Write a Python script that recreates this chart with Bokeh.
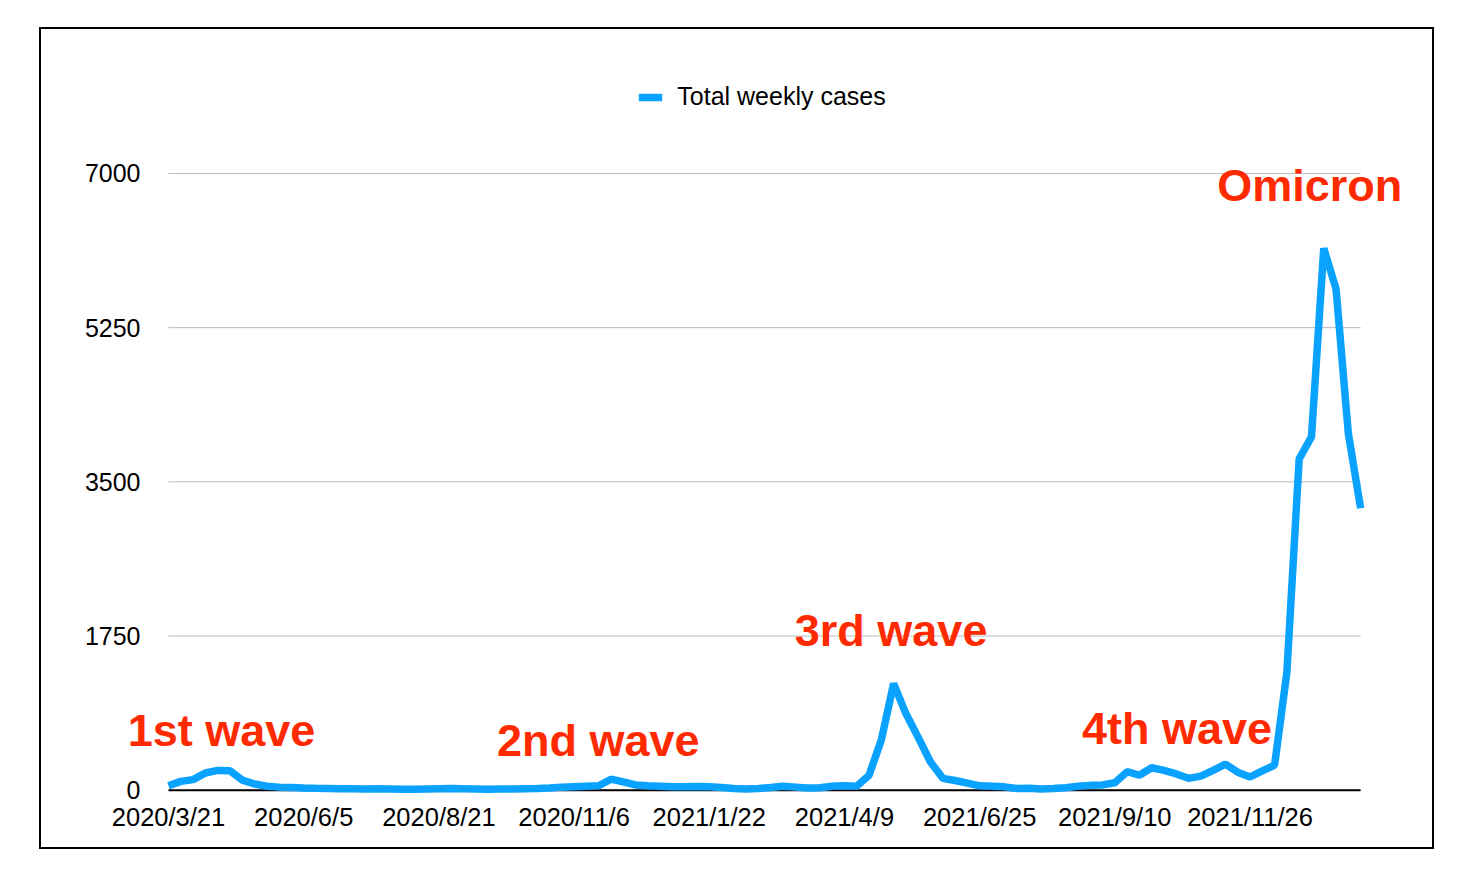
from bokeh.plotting import figure
from bokeh.models import (Range1d, FixedTicker, Label, Legend, LegendItem,
                          ColumnDataSource)
from bokeh.embed import file_html
from bokeh.resources import INLINE

# ---- data (weekly cases) ----
cases = [50, 100, 120, 195, 225, 220, 115, 70, 45, 35,
         30, 25, 22, 20, 18, 18, 15, 18, 15, 12,
         12, 15, 18, 20, 18, 15, 12, 15, 15, 18,
         20, 25, 35, 40, 45, 50, 125, 95, 60, 50,
         45, 40, 38, 42, 38, 30, 20, 15, 20, 30,
         45, 35, 25, 28, 45, 50, 45, 170, 570, 1210,
         870, 600, 320, 135, 110, 80, 50, 45, 38, 20,
         22, 15, 20, 28, 45, 55, 60, 85, 210, 170,
         255, 225, 185, 135, 160, 225, 295, 205, 150, 220,
         285, 1340, 3760, 4010, 6150, 5690, 4050, 3200]
tick_labels = ["2020/3/21", "2020/6/5", "2020/8/21", "2020/11/6", "2021/1/22",
               "2021/4/9", "2021/6/25", "2021/9/10", "2021/11/26"]
tick_step = 11
y_ticks = [0, 1750, 3500, 5250, 7000]
series_name = "Total weekly cases"
wave_texts = ["1st wave", "2nd wave", "3rd wave", "4th wave", "Omicron"]

weeks = list(range(len(cases)))
src = ColumnDataSource(dict(week=weeks, cases=cases))
last = len(cases) - 1

FONT = "Liberation Sans"

p = figure(width=1395, height=822, output_backend="svg", toolbar_location=None,
           x_range=Range1d(-3.906, 100.57),
           y_range=Range1d(-60, 8282),
           min_border_left=79, min_border_right=32,
           min_border_top=31, min_border_bottom=56)
p.margin = (27, 0, 0, 39)
p.styles = {"border": "2px solid black"}
p.outline_line_color = None
p.background_fill_color = "white"
p.border_fill_color = "white"
p.xgrid.visible = False
p.ygrid.visible = False

# horizontal gridlines spanning the data extent, then the black zero baseline
grid_src = ColumnDataSource(dict(x0=[0] * len(y_ticks), x1=[last] * len(y_ticks),
                                 y=y_ticks))
p.segment('x0', 'y', 'x1', 'y', source=grid_src, line_color="#BBBBBB", line_width=1)
p.segment(x0=[0], y0=[0], x1=[last], y1=[0], line_color="black", line_width=2)

r = p.line('week', 'cases', source=src, line_color="#0AA2FF", line_width=7.5,
           line_join="bevel")

# axes
p.yaxis.ticker = FixedTicker(ticks=y_ticks)
xt = [i * tick_step for i in range(len(tick_labels))]
p.xaxis.ticker = FixedTicker(ticks=xt)
p.xaxis.major_label_overrides = {t: l for t, l in zip(xt, tick_labels)}
for ax in (p.xaxis[0], p.yaxis[0]):
    ax.axis_line_color = None
    ax.major_tick_line_color = None
    ax.minor_tick_line_color = None
    ax.major_label_text_font = FONT
    ax.major_label_text_font_style = "normal"
    ax.major_label_text_color = "black"
p.xaxis.major_label_text_font_size = "25.5px"
p.yaxis.major_label_text_font_size = "25px"
p.yaxis.major_label_standoff = -26
p.xaxis.major_label_standoff = 1

legend = Legend(items=[LegendItem(label=series_name, renderers=[r])],
                location="top_center", orientation="horizontal",
                border_line_color=None, background_fill_alpha=0,
                label_text_font=FONT, label_text_font_size="25px",
                label_text_color="black",
                glyph_width=24, label_standoff=15, padding=0, margin=22, spacing=0)
p.add_layout(legend)

# wave annotations (x in week index, y in cases, left/alphabetic anchor)
wave_pos = [(-3.32, 675), (26.73, 561), (50.96, 1809), (74.33, 697), (85.33, 6858)]
for text, (x, y) in zip(wave_texts, wave_pos):
    p.add_layout(Label(x=x, y=y, text=text, text_font=FONT, text_font_style="bold",
                       text_font_size="45px", text_color="#FF2A00",
                       text_baseline="alphabetic", text_align="left"))

open("out.html", "w").write(file_html(p, INLINE))
